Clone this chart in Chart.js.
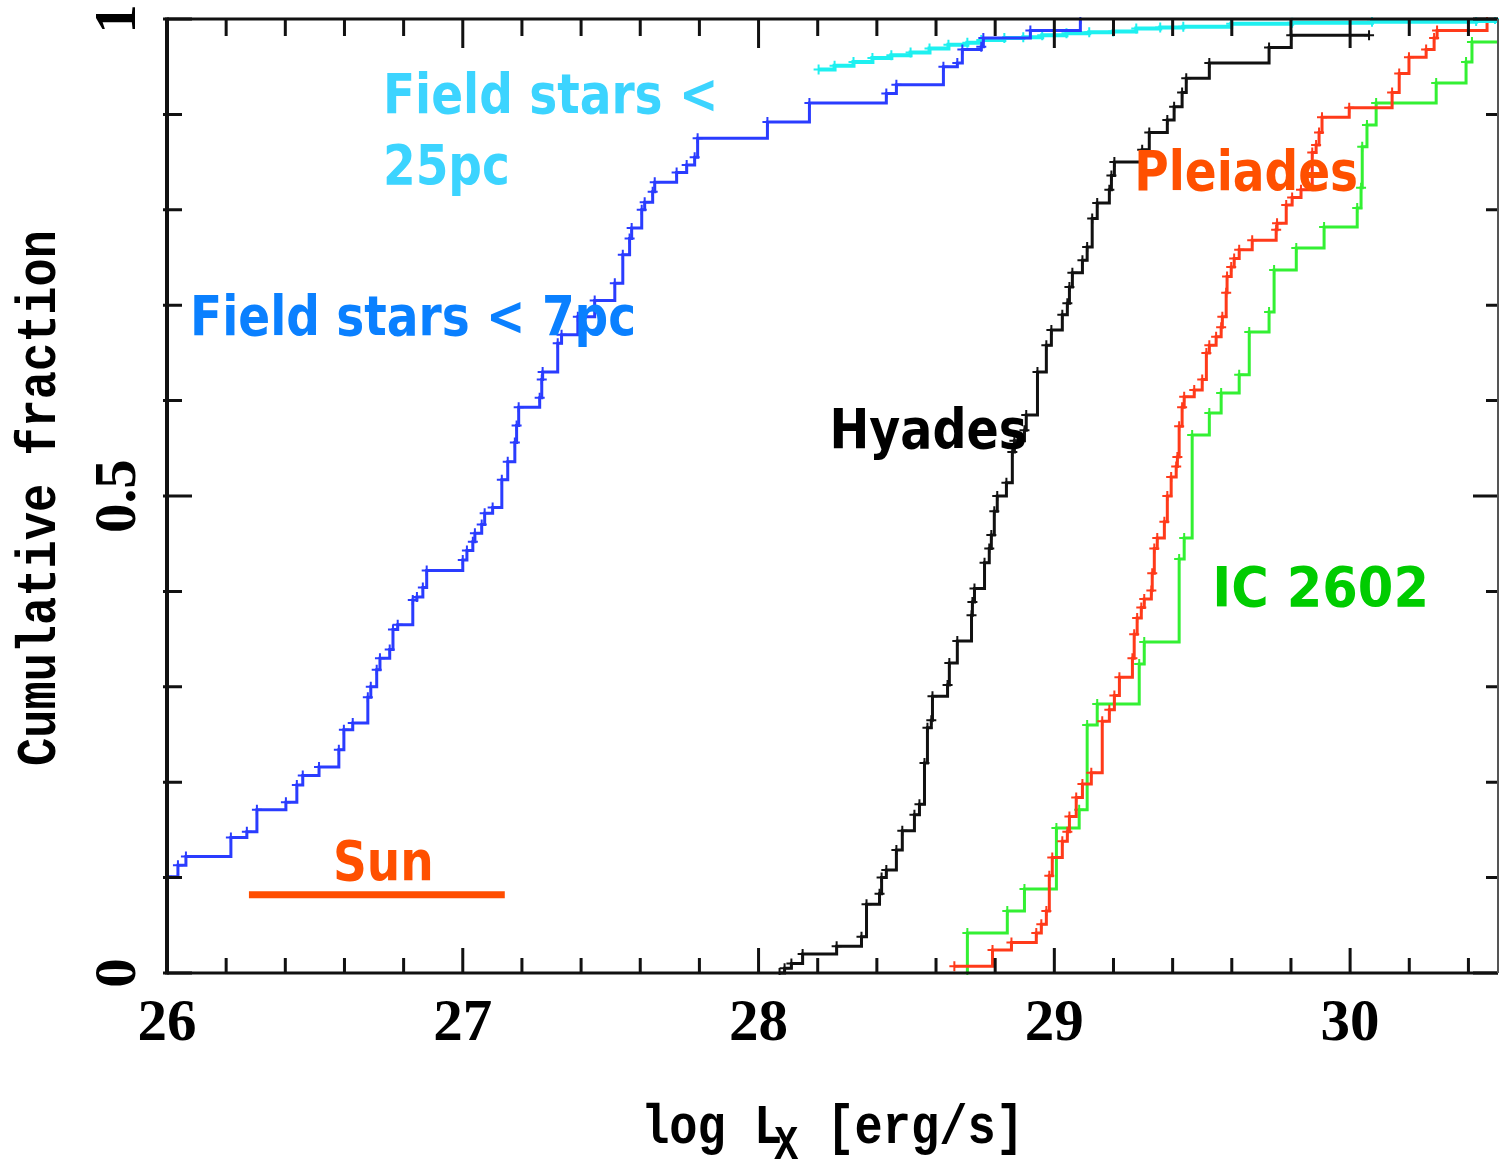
<!DOCTYPE html>
<html>
<head>
<meta charset="utf-8">
<title>Cumulative X-ray luminosity functions</title>
<script src="https://cdn.jsdelivr.net/npm/chart.js@4.4.0/dist/chart.umd.min.js"></script>
<style>
  html, body { margin: 0; padding: 0; background: #fff; }
  canvas { display: block; }
</style>
</head>
<body>
<canvas id="lxChart" width="1499" height="1163"></canvas>
<script>
// Each series: log Lx [erg/s] where a cumulative step occurs and the fraction reached there
const field7pcLx = [25.976, 26.0, 26.037, 26.064, 26.216, 26.270, 26.304, 26.402, 26.439, 26.459, 26.514, 26.581, 26.598, 26.628, 26.679, 26.689, 26.709, 26.720, 26.753, 26.764, 26.780, 26.831, 26.845, 26.865, 26.878, 27.0, 27.014, 27.034, 27.041, 27.064, 27.074, 27.101, 27.132, 27.152, 27.176, 27.182, 27.189, 27.260, 27.267, 27.270, 27.321, 27.334, 27.389, 27.446, 27.514, 27.541, 27.564, 27.571, 27.605, 27.615, 27.642, 27.649, 27.723, 27.757, 27.784, 27.794, 28.030, 28.172, 28.432, 28.466, 28.625, 28.672, 28.689, 28.753, 28.760, 28.919, 29.088];
const field7pcFrac = [0.084, 0.101, 0.113, 0.122, 0.142, 0.148, 0.171, 0.179, 0.197, 0.207, 0.216, 0.234, 0.255, 0.262, 0.289, 0.300, 0.318, 0.330, 0.339, 0.360, 0.365, 0.391, 0.394, 0.404, 0.422, 0.433, 0.443, 0.452, 0.461, 0.470, 0.482, 0.488, 0.517, 0.536, 0.556, 0.574, 0.593, 0.603, 0.622, 0.630, 0.660, 0.669, 0.688, 0.705, 0.723, 0.753, 0.770, 0.781, 0.800, 0.808, 0.819, 0.829, 0.839, 0.847, 0.855, 0.875, 0.892, 0.912, 0.922, 0.931, 0.950, 0.954, 0.968, 0.971, 0.980, 0.988, 1.0];

const field25pcLx = [28.203, 28.257, 28.321, 28.385, 28.449, 28.514, 28.578, 28.642, 28.706, 28.753, 28.831, 28.895, 28.959, 29.041, 29.118, 29.199, 29.277, 29.358, 29.436, 29.598, 29.804, 30.074, 30.426, 30.49];
const field25pcFrac = [0.947, 0.951, 0.955, 0.959, 0.962, 0.965, 0.969, 0.973, 0.975, 0.978, 0.980, 0.981, 0.983, 0.985, 0.986, 0.987, 0.990, 0.991, 0.992, 0.995, 0.996, 0.997, 0.998, 1.0];

const hyadesLx = [28.071, 28.088, 28.111, 28.149, 28.264, 28.348, 28.365, 28.409, 28.416, 28.432, 28.466, 28.486, 28.527, 28.544, 28.561, 28.571, 28.584, 28.588, 28.639, 28.645, 28.672, 28.720, 28.723, 28.730, 28.764, 28.780, 28.787, 28.797, 28.807, 28.838, 28.858, 28.865, 28.899, 28.905, 28.943, 28.973, 28.990, 29.027, 29.044, 29.051, 29.061, 29.095, 29.111, 29.128, 29.145, 29.186, 29.193, 29.203, 29.297, 29.321, 29.382, 29.405, 29.432, 29.446, 29.524, 29.726, 29.801, 30.064];
const hyadesFrac = [0, 0.005, 0.010, 0.020, 0.028, 0.038, 0.072, 0.083, 0.100, 0.108, 0.129, 0.149, 0.166, 0.177, 0.220, 0.257, 0.265, 0.290, 0.302, 0.325, 0.348, 0.375, 0.389, 0.403, 0.430, 0.445, 0.459, 0.484, 0.500, 0.514, 0.546, 0.558, 0.569, 0.585, 0.630, 0.658, 0.674, 0.690, 0.702, 0.719, 0.734, 0.747, 0.761, 0.791, 0.807, 0.821, 0.836, 0.850, 0.863, 0.881, 0.894, 0.908, 0.923, 0.938, 0.954, 0.970, 0.983, 0.983];

const pleiadesLx = [28.662, 28.791, 28.855, 28.939, 28.956, 28.973, 28.983, 28.993, 29.027, 29.044, 29.051, 29.074, 29.095, 29.125, 29.162, 29.186, 29.203, 29.220, 29.264, 29.270, 29.280, 29.294, 29.304, 29.328, 29.331, 29.338, 29.348, 29.372, 29.382, 29.395, 29.412, 29.416, 29.422, 29.432, 29.439, 29.473, 29.500, 29.514, 29.524, 29.547, 29.564, 29.568, 29.581, 29.584, 29.598, 29.608, 29.625, 29.669, 29.750, 29.753, 29.784, 29.804, 29.834, 29.872, 29.885, 29.895, 29.905, 29.997, 30.142, 30.166, 30.199, 30.257, 30.284, 30.294, 30.463];
const pleiadesFrac = [0.007, 0.024, 0.032, 0.042, 0.051, 0.065, 0.102, 0.121, 0.138, 0.148, 0.164, 0.184, 0.198, 0.210, 0.264, 0.276, 0.291, 0.310, 0.330, 0.355, 0.372, 0.383, 0.392, 0.401, 0.419, 0.445, 0.456, 0.473, 0.500, 0.520, 0.531, 0.541, 0.573, 0.593, 0.604, 0.611, 0.622, 0.650, 0.658, 0.667, 0.677, 0.688, 0.713, 0.730, 0.740, 0.749, 0.758, 0.768, 0.779, 0.786, 0.805, 0.813, 0.821, 0.860, 0.868, 0.881, 0.897, 0.907, 0.923, 0.943, 0.960, 0.968, 0.980, 0.988, 1.0];

const ic2602Lx = [28.706, 28.706, 28.841, 28.899, 29.007, 29.084, 29.111, 29.145, 29.287, 29.304, 29.422, 29.439, 29.466, 29.524, 29.564, 29.625, 29.659, 29.726, 29.743, 29.818, 29.912, 30.024, 30.037, 30.041, 30.057, 30.088, 30.291, 30.392, 30.412, 30.5];
const ic2602Frac = [0, 0.042, 0.065, 0.088, 0.152, 0.171, 0.260, 0.282, 0.324, 0.347, 0.434, 0.456, 0.564, 0.587, 0.608, 0.627, 0.672, 0.693, 0.737, 0.760, 0.782, 0.802, 0.823, 0.866, 0.889, 0.912, 0.933, 0.955, 0.976, 0.976];

// range of solar Lx over the activity cycle
const sunLx = [26.277, 27.142];
const sunFrac = [0.082, 0.082];

// axis ticks
const xMajorTicks = [26, 27, 28, 29, 30];
const yMajorTicks = [0, 0.5, 1];
const xMinorStep = 0.2;
const yMinorStep = 0.1;

// text placed on the plot, anchored in data units (left edge, baseline)
const plotLabels = [
  { text: 'Field stars <', x: 26.730, y: 0.901, color: '#3cd4ff', squeeze: 0.855 },
  { text: '25pc',          x: 26.730, y: 0.827, color: '#3cd4ff', squeeze: 0.855 },
  { text: 'Field stars < 7pc', x: 26.078, y: 0.669, color: '#0a80ff', squeeze: 0.855 },
  { text: 'Hyades',   x: 28.240, y: 0.550, color: '#000000', squeeze: 0.865 },
  { text: 'Pleiades', x: 29.270, y: 0.821, color: '#ff5000', squeeze: 0.855 },
  { text: 'IC 2602',  x: 29.534, y: 0.385, color: '#00cc00', squeeze: 0.93 },
  { text: 'Sun',      x: 26.561, y: 0.097, color: '#ff5000', squeeze: 0.855 }
];

const labelFont = 'bold 55px "DejaVu Sans", Verdana, sans-serif';
const tickFont = 'bold 59px "Liberation Serif", "Times New Roman", serif';
const titleFont = 'bold 47px "Liberation Mono", "Courier New", monospace';
const subFont = 'bold 40px "Liberation Mono", "Courier New", monospace';
const titleStretch = 1.2;

function toPoints(xs, ys) {
  return xs.map((x, i) => ({ x: x, y: ys[i] }));
}

function stepSeries(xs, ys, color, width) {
  return {
    data: toPoints(xs, ys),
    showLine: true,
    stepped: true,
    borderColor: color,
    borderWidth: width,
    pointStyle: 'cross',
    pointRadius: 5,
    pointBorderWidth: 2,
    pointBorderColor: color,
    pointBackgroundColor: color,
    clip: 2
  };
}

function stepValues(min, max, step) {
  const out = [];
  const n = Math.round((max - min) / step);
  for (let i = 0; i <= n; i++) out.push(+(min + i * step).toFixed(4));
  return out;
}

function drawText(ctx, text, px, py, font, color, sx, sy, align) {
  ctx.save();
  ctx.translate(px, py);
  ctx.scale(sx, sy);
  ctx.font = font;
  ctx.fillStyle = color;
  ctx.textAlign = align || 'left';
  ctx.textBaseline = 'alphabetic';
  ctx.fillText(text, 0, 0);
  ctx.restore();
}

// frame, inward ticks, tick labels, axis titles and curve names
const framePlugin = {
  id: 'frame',
  afterDraw(chart) {
    const ctx = chart.ctx;
    const a = chart.chartArea;
    const xs = chart.scales.x;
    const ys = chart.scales.y;

    ctx.save();
    ctx.strokeStyle = '#111';
    ctx.lineCap = 'butt';

    // ticks on all four sides
    ctx.lineWidth = 3;
    ctx.beginPath();
    stepValues(xs.min, xs.max - 0.01, xMinorStep).forEach(v => {
      const px = xs.getPixelForValue(v);
      const major = xMajorTicks.some(t => Math.abs(t - v) < 1e-6);
      ctx.moveTo(px, a.bottom);
      ctx.lineTo(px, a.bottom - (major ? 25 : 15));
      ctx.moveTo(px, a.top);
      ctx.lineTo(px, a.top + (major ? 29 : 17));
    });
    stepValues(ys.min, ys.max, yMinorStep).forEach(v => {
      const py = ys.getPixelForValue(v);
      const major = yMajorTicks.some(t => Math.abs(t - v) < 1e-6);
      ctx.moveTo(a.left - 4, py);
      ctx.lineTo(a.left + (major ? 25 : 15), py);
      ctx.moveTo(a.right, py);
      ctx.lineTo(a.right - (major ? 25 : 12), py);
    });
    ctx.stroke();

    // box
    ctx.lineWidth = 3;
    ctx.beginPath();
    ctx.moveTo(a.left, a.top);
    ctx.lineTo(a.right, a.top);
    ctx.moveTo(a.left, a.bottom);
    ctx.lineTo(a.right, a.bottom);
    ctx.stroke();
    ctx.lineWidth = 4;
    ctx.beginPath();
    ctx.moveTo(a.left, a.top - 1.5);
    ctx.lineTo(a.left, a.bottom + 1.5);
    ctx.stroke();
    ctx.lineWidth = 2;
    ctx.strokeStyle = '#555';
    ctx.beginPath();
    ctx.moveTo(a.right, a.top);
    ctx.lineTo(a.right, a.bottom);
    ctx.stroke();

    // tick labels
    xMajorTicks.forEach(v => {
      drawText(ctx, String(v), xs.getPixelForValue(v), a.bottom + 67, tickFont, '#000', 1, 1, 'center');
    });
    yMajorTicks.forEach(v => {
      ctx.save();
      ctx.translate(a.left - 32, ys.getPixelForValue(v));
      ctx.rotate(-Math.PI / 2);
      drawText(ctx, String(v), 0, 0, tickFont, '#000', 1, 1, 'center');
      ctx.restore();
    });

    // y title
    ctx.save();
    ctx.translate(55, (a.top + a.bottom) / 2 + 2);
    ctx.rotate(-Math.PI / 2);
    drawText(ctx, 'Cumulative fraction', 0, 0, titleFont, '#000', 1, titleStretch, 'center');
    ctx.restore();

    // x title with subscript
    ctx.font = titleFont;
    const w1 = ctx.measureText('log L').width;
    const w3 = ctx.measureText(' [erg/s]').width;
    ctx.font = subFont;
    const w2 = ctx.measureText('X').width;
    const start = (a.left + a.right) / 2 - (w1 + w2 + w3 - 8) / 2;
    const base = 1143;
    drawText(ctx, 'log L', start, base, titleFont, '#000', 1, titleStretch);
    drawText(ctx, 'X', start + w1 - 8, base + 16, subFont, '#000', 1, titleStretch);
    drawText(ctx, ' [erg/s]', start + w1 - 8 + w2, base, titleFont, '#000', 1, titleStretch);

    // curve names
    plotLabels.forEach(l => {
      drawText(ctx, l.text, xs.getPixelForValue(l.x), ys.getPixelForValue(l.y),
        labelFont, l.color, l.squeeze, 1);
    });

    ctx.restore();
  }
};

const sunSeries = {
  data: toPoints(sunLx, sunFrac),
  showLine: true,
  borderColor: '#ff4d00',
  borderWidth: 7,
  borderCapStyle: 'butt',
  pointRadius: 0
};

new Chart(document.getElementById('lxChart'), {
  type: 'scatter',
  data: {
    datasets: [
      stepSeries(field7pcLx, field7pcFrac, '#2a3cff', 3),
      stepSeries(field25pcLx, field25pcFrac, '#1ef0f0', 4),
      stepSeries(hyadesLx, hyadesFrac, '#111111', 3),
      stepSeries(pleiadesLx, pleiadesFrac, '#ff3a1a', 3),
      stepSeries(ic2602Lx, ic2602Frac, '#33f033', 3),
      sunSeries
    ]
  },
  options: {
    responsive: false,
    animation: false,
    devicePixelRatio: 1,
    layout: {
      autoPadding: false,
      padding: { left: 167, right: 1, top: 19, bottom: 190 }
    },
    plugins: {
      legend: { display: false },
      tooltip: { enabled: false }
    },
    scales: {
      x: { type: 'linear', min: 26, max: 30.5, display: false },
      y: { type: 'linear', min: 0, max: 1, display: false }
    }
  },
  plugins: [framePlugin]
});
</script>
</body>
</html>
